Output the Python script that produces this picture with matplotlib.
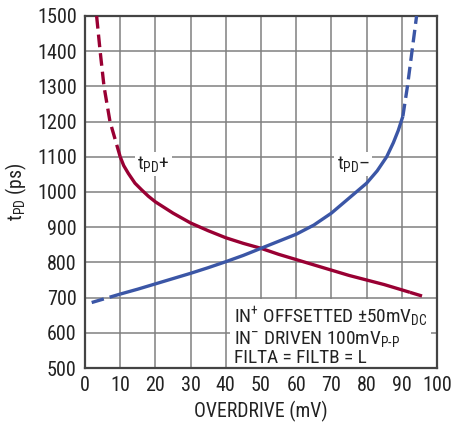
import matplotlib
matplotlib.use("Agg")
import matplotlib.pyplot as plt

FONT = "Roboto Condensed"
plt.rcParams['font.family'] = [FONT, 'DejaVu Sans']
plt.rcParams['mathtext.fontset'] = 'custom'
plt.rcParams['mathtext.rm'] = FONT
plt.rcParams['mathtext.it'] = FONT
plt.rcParams['mathtext.default'] = 'regular'

# tPD+ data
pos_dash1_x = [3.3, 4.3, 5.4, 7.1, 10.0]
pos_dash1_y = [1500, 1400, 1300, 1200, 1100]
pos_x = [10, 11, 12.3, 14.2, 16.1, 18, 20, 25, 30, 35, 40, 45, 50, 55, 60, 65, 70, 75, 80, 85, 90, 92.3]
pos_y = [1100, 1075, 1053, 1025, 1006, 988, 972, 940, 912, 890, 870, 854, 840, 823, 808, 793, 778, 763, 750, 737, 722, 715]
pos_dash2_x = [92.3, 96.9]
pos_dash2_y = [715, 701]

# tPD- data
neg_dash1_x = [1.9, 10]
neg_dash1_y = [686, 710]
neg_x = [10, 15, 20, 25, 30, 35, 40, 45, 50, 55, 60, 65, 70, 75.3, 80, 83, 85.7, 87.6, 89, 90.3]
neg_y = [710, 724, 739, 754, 769, 785, 802, 820, 840, 860, 880, 906, 940, 985, 1025, 1060, 1100, 1140, 1175, 1215]
neg_dash2_x = [90.3, 91.6, 92.9, 94.2]
neg_dash2_y = [1215, 1300, 1400, 1500]

RED = "#990033"
BLUE = "#3b56a6"

fig = plt.figure(figsize=(4.53, 4.23), dpi=100)
ax = fig.add_axes([85/453, 1 - 368/423, (437-85)/453, (368-16)/423])

lw = 2.4
dash = (0, (3.8, 1.8))
ax.plot(pos_x, pos_y, color=RED, lw=lw, solid_capstyle='butt', solid_joinstyle='round', zorder=3)
ax.plot(pos_dash1_x, pos_dash1_y, color=RED, lw=lw, ls=dash, dash_capstyle='butt', zorder=3)
ax.plot(pos_dash2_x, pos_dash2_y, color=RED, lw=lw, ls=dash, dash_capstyle='butt', zorder=3)
ax.plot(neg_x, neg_y, color=BLUE, lw=lw, solid_capstyle='butt', solid_joinstyle='round', zorder=3)
ax.plot(neg_dash1_x, neg_dash1_y, color=BLUE, lw=lw, ls=dash, dash_capstyle='butt', zorder=3)
ax.plot(neg_dash2_x, neg_dash2_y, color=BLUE, lw=lw, ls=dash, dash_capstyle='butt', zorder=3)

ax.set_xlim(0, 100)
ax.set_ylim(500, 1500)
ax.set_xticks(range(0, 101, 10))
ax.set_yticks(range(500, 1501, 100))
ax.grid(True, color="#808080", lw=1.1, zorder=1)
ax.set_axisbelow(True)
ax.tick_params(length=0, labelsize=14.5, colors="#222222", pad=6)
for s in ax.spines.values():
    s.set_color("#444444")
    s.set_linewidth(1.6)

ax.set_xlabel("OVERDRIVE (mV)", fontsize=14.2, color="#222222", labelpad=4)
ax.set_ylabel("t$_{PD}$ (ps)", fontsize=14.2, color="#222222", labelpad=6)

bb = dict(boxstyle="square,pad=0.12", fc="white", ec="none")
ax.text(14.9, 1080, "t$_{PD}$+", fontsize=14, color="#222222", ha="left", va="center", bbox=bb, zorder=2)
ax.text(71.5, 1080, "t$_{PD}$\u2013", fontsize=14, color="#222222", ha="left", va="center", bbox=bb, zorder=2)

note = ("IN$^{+}$ OFFSETTED \u00b150mV$_{DC}$\n"
        "IN$^{\u2013}$ DRIVEN 100mV$_{P\u2010P}$\n"
        "FILTA = FILTB = L")
ax.text(42.3, 503, note, fontsize=13.9, color="#222222", ha="left", va="bottom",
        linespacing=1.0,
        bbox=dict(boxstyle="square,pad=0.2", fc="white", ec="none"), zorder=2)

fig.savefig("out.png", dpi=100)
